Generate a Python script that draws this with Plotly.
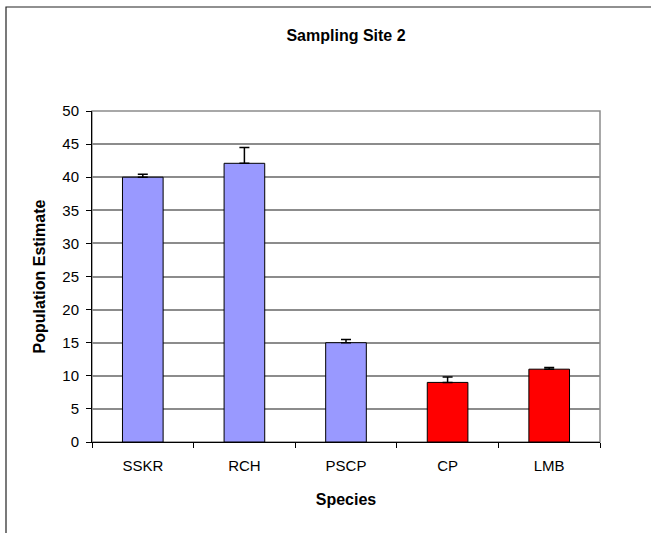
import plotly.graph_objects as go

species = ["SSKR", "RCH", "PSCP", "CP", "LMB"]
estimates = [40.0, 42.1, 15.0, 9.0, 11.0]
errors_plus = [0.45, 2.4, 0.5, 0.8, 0.25]
errors_minus = [0, 0, 0, 0, 0]
bar_colors = ["#9999FF", "#9999FF", "#9999FF", "#FF0000", "#FF0000"]
y_ticks = [0, 5, 10, 15, 20, 25, 30, 35, 40, 45, 50]

W, H = 651, 533
L, R, T, B = 92, 51, 111, 91
pw, ph = W - L - R, H - T - B

fig = go.Figure()
fig.add_trace(go.Bar(
    x=species, y=estimates,
    marker=dict(color=bar_colors, line=dict(color="black", width=1)),
    width=0.4,
    error_y=dict(type="data", symmetric=False, array=errors_plus,
                 arrayminus=errors_minus, color="black", thickness=1.5, width=5),
    showlegend=False,
))

font = "Liberation Sans, Arial, sans-serif"

def px_x(p):
    return (p - L) / pw

def px_y(p):
    return (H - B - p) / ph

fig.update_layout(
    width=W, height=H,
    margin=dict(l=L, r=R, t=T, b=B, autoexpand=False),
    paper_bgcolor="white", plot_bgcolor="white",
    font=dict(family=font, size=15, color="black"),
    title=dict(text="<b>Sampling Site 2</b>", x=0.5, xref="paper", xanchor="center",
               y=1 - 35 / H, yanchor="middle", font=dict(size=16)),
    bargap=0.6,
    shapes=[
        # outer chart frame
        dict(type="rect", xref="paper", yref="paper",
             x0=px_x(6), x1=px_x(700), y0=px_y(600), y1=px_y(7),
             line=dict(color="#222222", width=1.2), layer="below"),
        # plot area border (gray)
        dict(type="rect", xref="paper", yref="paper",
             x0=0, x1=1, y0=0, y1=1,
             line=dict(color="#8c8c8c", width=1.5), layer="below"),
    ],
)

fig.update_xaxes(
    type="category",
    showline=True, linecolor="black", linewidth=1,
    ticks="outside", tickson="boundaries", ticklen=5, tickcolor="black",
    ticklabelstandoff=10,
    showgrid=False,
    tickfont=dict(size=15),
    title=dict(text="<b>Species</b>", font=dict(size=16), standoff=20),
)
fig.update_yaxes(
    range=[0, 50], tickvals=y_ticks,
    showline=True, linecolor="black", linewidth=1,
    ticks="outside", ticklen=5, tickcolor="black",
    ticklabelstandoff=4,
    showgrid=True, gridcolor="#8c8c8c", gridwidth=1.5,
    zeroline=False,
    tickfont=dict(size=15),
    title=dict(text="<b>Population Estimate</b>", font=dict(size=16), standoff=12),
)

fig.write_html("out.html", config={"displayModeBar": False},
               post_script="document.body.style.margin='0';")
